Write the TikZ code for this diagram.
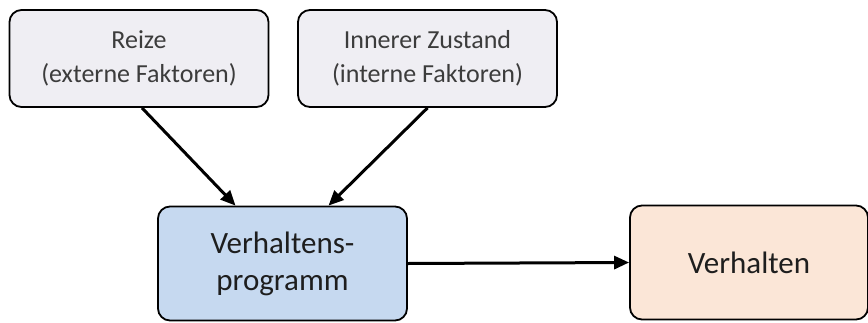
\documentclass[tikz,border=0pt]{standalone}
\usepackage{fontspec}
\setmainfont{Carlito}
\usetikzlibrary{arrows.meta}
\definecolor{topfill}{HTML}{EFEEF3}
\definecolor{progfill}{HTML}{C6D9F0}
\definecolor{verhfill}{HTML}{FBE6D7}
\definecolor{toptext}{HTML}{3C3C3C}
\definecolor{bottext}{HTML}{1E1E1E}
\tikzset{
  box/.style={draw=black, line width=1.8pt, rounded corners=12pt, align=center, inner sep=0pt},
  topbox/.style={box, fill=topfill, text=toptext, font=\fontsize{26}{34}\selectfont},
  botbox/.style={box, text=bottext, font=\fontsize{31}{37}\selectfont},
  conn/.style={line width=3pt, -{Triangle[length=15pt,width=13pt]}}
}
\begin{document}
\begin{tikzpicture}[x=1pt,y=-1pt]
\useasboundingbox (0,0) rectangle (868,322);
\node[topbox, minimum width=259pt, minimum height=97pt] (reize) at (139,58.5) {Reize\\(externe Faktoren)};
\node[topbox, minimum width=259pt, minimum height=97pt] (innen) at (427.5,58.5) {Innerer Zustand\\(interne Faktoren)};
\node[botbox, fill=progfill, minimum width=249pt, minimum height=114pt] (prog) at (282.5,263.5) {Verhaltens-\\programm};
\node[botbox, fill=verhfill, minimum width=238pt, minimum height=114pt] (verh) at (749,262.5) {Verhalten};
\draw[conn] ([xshift=3pt]reize.south) -- ([xshift=-47pt]prog.north);
\draw[conn] (innen.south) -- ([xshift=46pt]prog.north);
\draw[conn] (prog.east) -- (verh.west);
\end{tikzpicture}
\end{document}
